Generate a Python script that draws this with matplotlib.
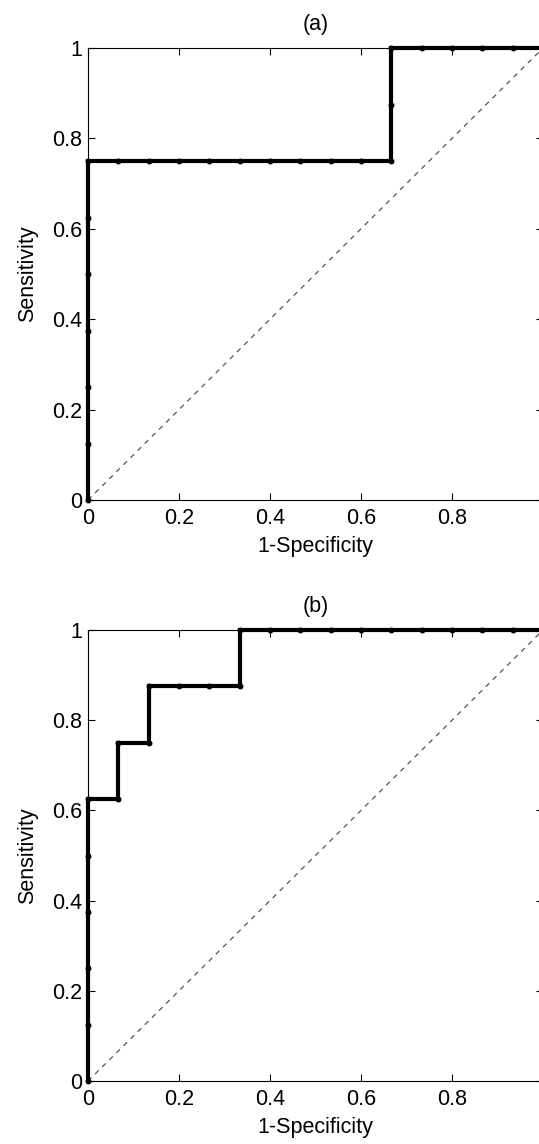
import numpy as np
import matplotlib
matplotlib.use('Agg')
import matplotlib.pyplot as plt

plt.rcParams['font.family'] = ['Liberation Sans', 'DejaVu Sans']

# ROC points, 15 negatives / 8 positives
n_neg = 15
n_pos = 8

# (a) counts of false positives / true positives along the curve
fp_a = [0, 0, 0, 0, 0, 0, 0, 1, 2, 3, 4, 5, 6, 7, 8, 9, 10, 10, 10, 11, 12, 13, 14, 15]
tp_a = [0, 1, 2, 3, 4, 5, 6, 6, 6, 6, 6, 6, 6, 6, 6, 6, 6, 7, 8, 8, 8, 8, 8, 8]

# (b)
fp_b = [0, 0, 0, 0, 0, 0, 1, 1, 2, 2, 3, 4, 5, 5, 6, 7, 8, 9, 10, 11, 12, 13, 14, 15]
tp_b = [0, 1, 2, 3, 4, 5, 5, 6, 6, 7, 7, 7, 7, 8, 8, 8, 8, 8, 8, 8, 8, 8, 8, 8]

titles = ['(a)', '(b)']
ticks = [0, 0.2, 0.4, 0.6, 0.8, 1]
tick_labels = ['0', '0.2', '0.4', '0.6', '0.8', '1']

fig = plt.figure(figsize=(5.39, 11.44), dpi=100)
W, H = 539.0, 1144.0
boxes = [(88, 48, 455, 452), (88, 630, 455, 451)]

for (left, top, w, h), fp, tp, title in zip(boxes, [fp_a, fp_b], [tp_a, tp_b], titles):
    ax = fig.add_axes([left / W, 1 - (top + h) / H, w / W, h / H])
    x = np.array(fp) / n_neg
    y = np.array(tp) / n_pos
    ax.plot([0, 1], [0, 1], color='#555555', linestyle=(0, (4, 4)), linewidth=0.9)
    ax.plot(x, y, color='black', linewidth=3.0, marker='.', markersize=6.5,
            solid_joinstyle='miter', clip_on=False, zorder=3)
    ax.set_xlim(0, 1)
    ax.set_ylim(0, 1)
    ax.set_xticks(ticks)
    ax.set_yticks(ticks)
    ax.set_xticklabels(tick_labels)
    ax.set_yticklabels(tick_labels)
    ax.tick_params(direction='in', length=5, width=0.8, labelsize=15.5,
                   top=True, right=True, colors='black')
    ax.tick_params(axis='x', pad=6)
    ax.tick_params(axis='y', pad=4)
    for s in ax.spines.values():
        s.set_linewidth(0.8)
    ax.set_title(title, fontsize=15.5, pad=13)
    ax.set_xlabel('1-Specificity', fontsize=15.5, labelpad=5)
    ax.set_ylabel('Sensitivity', fontsize=15.5, labelpad=10)

fig.savefig('out.png', dpi=100)
